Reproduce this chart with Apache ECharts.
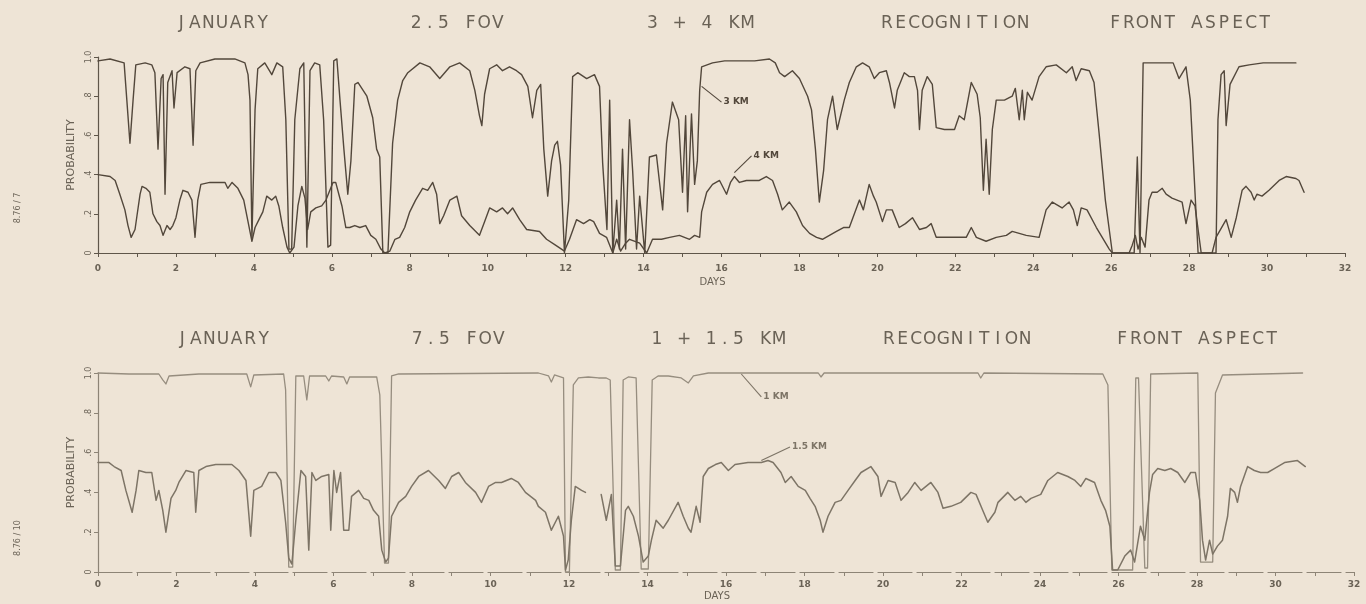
<!DOCTYPE html>
<html><head><meta charset="utf-8">
<script src="https://cdn.jsdelivr.net/npm/echarts@6/dist/echarts.min.js"></script>
<style>html,body{margin:0;padding:0;background:#eee4d6;}#c{width:1366px;height:604px;}</style>
</head><body><div id="c"></div>
<script>
// ---------- text ----------
const topTitles = ['JANUARY', '2.5 FOV', '3 + 4 KM', 'RECOGNITION', 'FRONT ASPECT'];
const bottomTitles = ['JANUARY', '7.5 FOV', '1 + 1.5 KM', 'RECOGNITION', 'FRONT ASPECT'];
const seriesNames = ['3 KM', '4 KM', '1 KM', '1.5 KM'];
const xName = 'DAYS';
const yName = 'PROBABILITY';
const sideNotes = ['8.76 / 7', '8.76 / 10'];

// ---------- data: [day, probability] ----------
const km3 = [[0,0.98],[0.31,0.99],[0.67,0.97],[0.74,0.78],[0.82,0.56],[0.90,0.78],[0.97,0.96],[1.21,0.97],[1.38,0.96],[1.46,0.92],[1.54,0.53],[1.62,0.89],[1.67,0.91],[1.72,0.30],[1.79,0.87],[1.90,0.93],[1.95,0.74],[2.03,0.92],[2.23,0.95],[2.36,0.94],[2.44,0.55],[2.51,0.93],[2.62,0.97],[3.00,0.99],[3.51,0.99],[3.77,0.97],[3.85,0.91],[3.90,0.78],[3.95,0.07],[4.03,0.73],[4.10,0.94],[4.28,0.97],[4.46,0.91],[4.59,0.97],[4.74,0.95],[4.82,0.68],[4.90,0.02],[4.97,0.02],[5.05,0.68],[5.18,0.94],[5.28,0.97],[5.36,0.03],[5.44,0.93],[5.56,0.97],[5.69,0.96],[5.79,0.68],[5.90,0.03],[5.97,0.04],[6.05,0.98],[6.13,0.99],[6.21,0.78],[6.31,0.53],[6.41,0.30],[6.49,0.47],[6.59,0.86],[6.67,0.87],[6.77,0.84],[6.90,0.80],[7.05,0.69],[7.15,0.53],[7.23,0.49],[7.31,0.00],[7.44,0.00],[7.56,0.56],[7.69,0.78],[7.82,0.88],[7.95,0.92],[8.26,0.97],[8.51,0.95],[8.77,0.89],[9.03,0.95],[9.28,0.97],[9.54,0.93],[9.67,0.83],[9.79,0.70],[9.85,0.65],[9.92,0.81],[10.05,0.94],[10.23,0.96],[10.38,0.93],[10.56,0.95],[10.74,0.93],[10.87,0.91],[11.03,0.85],[11.15,0.69],[11.26,0.83],[11.36,0.86],[11.44,0.53],[11.54,0.29],[11.64,0.47],[11.72,0.55],[11.79,0.57],[11.87,0.45],[11.97,0.00],[12.08,0.27],[12.18,0.90],[12.31,0.92],[12.54,0.89],[12.74,0.91],[12.87,0.85],[12.95,0.46],[13.06,0.12],[13.13,0.78],[13.21,0.00],[13.31,0.27],[13.38,0.02],[13.46,0.53],[13.54,0.02],[13.64,0.68],[13.72,0.42],[13.82,0.02],[13.90,0.29],[14.03,0.00],[14.15,0.49],[14.33,0.50],[14.49,0.22],[14.59,0.56],[14.74,0.77],[14.90,0.68],[15.00,0.31],[15.08,0.70],[15.13,0.21],[15.23,0.71],[15.31,0.35],[15.38,0.47],[15.44,0.83],[15.49,0.95],[15.77,0.97],[16.08,0.98],[16.46,0.98],[16.85,0.98],[17.23,0.99],[17.38,0.97],[17.49,0.92],[17.62,0.90],[17.82,0.93],[18.00,0.89],[18.21,0.80],[18.31,0.73],[18.41,0.53],[18.51,0.26],[18.62,0.42],[18.72,0.68],[18.85,0.80],[18.97,0.63],[19.15,0.78],[19.28,0.87],[19.46,0.95],[19.62,0.97],[19.79,0.95],[19.92,0.89],[20.05,0.92],[20.23,0.93],[20.31,0.87],[20.44,0.74],[20.51,0.83],[20.69,0.92],[20.82,0.90],[20.95,0.90],[21.03,0.83],[21.08,0.63],[21.15,0.83],[21.28,0.90],[21.41,0.86],[21.51,0.64],[21.72,0.63],[21.98,0.63],[22.10,0.70],[22.23,0.68],[22.41,0.87],[22.56,0.81],[22.64,0.69],[22.72,0.32],[22.79,0.58],[22.87,0.30],[22.95,0.63],[23.05,0.78],[23.26,0.78],[23.46,0.80],[23.54,0.84],[23.64,0.68],[23.72,0.83],[23.77,0.68],[23.85,0.82],[23.97,0.78],[24.15,0.90],[24.33,0.95],[24.59,0.96],[24.85,0.92],[25.00,0.95],[25.10,0.88],[25.23,0.94],[25.44,0.93],[25.56,0.87],[25.69,0.61],[25.85,0.27],[26.03,0.00],[26.59,0.00],[26.67,0.49],[26.74,0.00],[26.82,0.97],[26.90,0.97],[27.59,0.97],[27.74,0.89],[27.92,0.95],[28.03,0.78],[28.23,0.00],[28.69,0.00],[28.74,0.68],[28.82,0.91],[28.90,0.93],[28.95,0.65],[29.05,0.86],[29.28,0.95],[29.54,0.96],[29.90,0.97],[30.74,0.97]];

const km4 = [[0,0.40],[0.31,0.39],[0.44,0.37],[0.56,0.30],[0.69,0.22],[0.77,0.14],[0.85,0.08],[0.95,0.12],[1.00,0.19],[1.08,0.30],[1.13,0.34],[1.23,0.33],[1.33,0.31],[1.41,0.20],[1.51,0.16],[1.59,0.14],[1.67,0.09],[1.77,0.14],[1.85,0.12],[1.92,0.14],[2.00,0.18],[2.10,0.27],[2.18,0.32],[2.31,0.31],[2.41,0.27],[2.49,0.08],[2.56,0.27],[2.64,0.35],[2.87,0.36],[3.26,0.36],[3.33,0.33],[3.44,0.36],[3.59,0.33],[3.74,0.27],[3.87,0.14],[3.95,0.06],[4.03,0.13],[4.13,0.17],[4.23,0.21],[4.33,0.29],[4.46,0.27],[4.56,0.29],[4.64,0.24],[4.74,0.13],[4.85,0.03],[4.92,0.00],[5.03,0.03],[5.13,0.24],[5.23,0.34],[5.31,0.28],[5.38,0.12],[5.46,0.21],[5.59,0.23],[5.74,0.24],[5.85,0.27],[5.95,0.32],[6.03,0.36],[6.10,0.36],[6.18,0.30],[6.26,0.24],[6.36,0.13],[6.46,0.13],[6.59,0.14],[6.72,0.13],[6.87,0.14],[7.00,0.09],[7.13,0.07],[7.26,0.02],[7.36,0.00],[7.49,0.01],[7.62,0.07],[7.74,0.08],[7.87,0.13],[8.00,0.21],[8.15,0.27],[8.33,0.33],[8.46,0.32],[8.59,0.36],[8.69,0.30],[8.77,0.15],[8.87,0.19],[9.03,0.27],[9.21,0.29],[9.33,0.19],[9.54,0.14],[9.79,0.09],[9.92,0.16],[10.05,0.23],[10.23,0.21],[10.38,0.23],[10.51,0.20],[10.64,0.23],[10.82,0.17],[11.00,0.12],[11.33,0.11],[11.51,0.07],[11.74,0.04],[11.97,0.01],[12.10,0.07],[12.28,0.17],[12.46,0.15],[12.62,0.17],[12.72,0.16],[12.87,0.10],[13.05,0.08],[13.21,0.00],[13.31,0.07],[13.41,0.01],[13.54,0.05],[13.64,0.07],[13.90,0.05],[14.08,0.00],[14.23,0.07],[14.46,0.07],[14.67,0.08],[14.92,0.09],[15.18,0.07],[15.31,0.09],[15.44,0.08],[15.49,0.21],[15.62,0.31],[15.77,0.35],[15.95,0.37],[16.13,0.30],[16.23,0.36],[16.33,0.39],[16.46,0.36],[16.64,0.37],[16.97,0.37],[17.15,0.39],[17.31,0.37],[17.44,0.30],[17.56,0.22],[17.74,0.26],[17.92,0.21],[18.08,0.14],[18.26,0.10],[18.44,0.08],[18.59,0.07],[18.77,0.09],[18.95,0.11],[19.13,0.13],[19.28,0.13],[19.41,0.20],[19.54,0.27],[19.64,0.22],[19.79,0.35],[19.90,0.29],[19.97,0.26],[20.13,0.16],[20.23,0.22],[20.38,0.22],[20.56,0.13],[20.72,0.15],[20.90,0.18],[21.08,0.12],[21.26,0.13],[21.38,0.15],[21.51,0.08],[21.85,0.08],[22.28,0.08],[22.41,0.13],[22.54,0.08],[22.79,0.06],[23.05,0.08],[23.31,0.09],[23.46,0.11],[23.82,0.09],[24.15,0.08],[24.33,0.22],[24.49,0.26],[24.74,0.23],[24.92,0.26],[25.03,0.22],[25.13,0.14],[25.23,0.23],[25.38,0.22],[25.62,0.13],[25.77,0.08],[25.95,0.02],[26.03,0.00],[26.46,0.00],[26.54,0.04],[26.62,0.09],[26.69,0.02],[26.77,0.08],[26.87,0.03],[26.97,0.27],[27.05,0.31],[27.18,0.31],[27.31,0.33],[27.41,0.30],[27.56,0.28],[27.82,0.26],[27.92,0.15],[28.05,0.27],[28.15,0.24],[28.31,0.00],[28.59,0.00],[28.69,0.08],[28.95,0.17],[29.08,0.08],[29.21,0.18],[29.36,0.32],[29.46,0.34],[29.59,0.31],[29.67,0.27],[29.74,0.30],[29.87,0.29],[30.05,0.32],[30.31,0.37],[30.49,0.39],[30.74,0.38],[30.82,0.37],[30.95,0.31]];

const km1 = [[0,1.00],[0.79,0.995],[1.55,0.995],[1.65,0.965],[1.73,0.945],[1.81,0.985],[2.57,0.995],[3.79,0.995],[3.89,0.93],[3.97,0.99],[4.73,0.995],[4.78,0.915],[4.86,0.025],[4.96,0.025],[5.04,0.985],[5.24,0.985],[5.32,0.865],[5.39,0.985],[5.80,0.985],[5.88,0.96],[5.95,0.985],[6.26,0.98],[6.34,0.945],[6.41,0.98],[7.10,0.98],[7.18,0.89],[7.30,0.045],[7.40,0.045],[7.48,0.985],[7.66,0.995],[11.22,1.00],[11.48,0.985],[11.55,0.955],[11.63,0.99],[11.86,0.975],[11.91,0.00],[12.01,0.00],[12.11,0.94],[12.24,0.975],[12.49,0.98],[12.75,0.975],[12.95,0.975],[13.05,0.965],[13.18,0.01],[13.31,0.01],[13.38,0.965],[13.51,0.98],[13.71,0.975],[13.84,0.015],[14.02,0.015],[14.12,0.965],[14.27,0.985],[14.53,0.985],[14.86,0.975],[15.04,0.95],[15.17,0.985],[15.55,1.00],[18.35,1.00],[18.42,0.98],[18.50,1.00],[22.42,1.00],[22.49,0.975],[22.57,1.00],[25.60,0.995],[25.73,0.94],[25.83,0.01],[26.36,0.01],[26.44,0.975],[26.51,0.975],[26.67,0.02],[26.74,0.02],[26.82,0.995],[28.02,1.00],[28.09,0.05],[28.40,0.05],[28.47,0.90],[28.65,0.99],[30.69,1.00]];

const km15 = [[0,0.55],[0.28,0.55],[0.41,0.53],[0.59,0.51],[0.71,0.41],[0.87,0.30],[0.97,0.41],[1.04,0.51],[1.22,0.50],[1.37,0.50],[1.48,0.36],[1.55,0.41],[1.65,0.31],[1.73,0.20],[1.86,0.37],[1.98,0.41],[2.06,0.45],[2.24,0.51],[2.44,0.50],[2.49,0.30],[2.57,0.51],[2.75,0.53],[3.00,0.54],[3.41,0.54],[3.59,0.51],[3.77,0.46],[3.89,0.18],[3.97,0.41],[4.17,0.43],[4.35,0.50],[4.53,0.50],[4.66,0.46],[4.78,0.25],[4.86,0.07],[4.94,0.04],[5.04,0.26],[5.17,0.51],[5.29,0.48],[5.37,0.11],[5.45,0.50],[5.55,0.46],[5.70,0.48],[5.88,0.49],[5.93,0.21],[6.01,0.51],[6.08,0.40],[6.18,0.50],[6.26,0.21],[6.39,0.21],[6.46,0.38],[6.64,0.41],[6.77,0.37],[6.90,0.36],[7.02,0.31],[7.15,0.28],[7.23,0.11],[7.33,0.05],[7.40,0.07],[7.48,0.28],[7.66,0.35],[7.84,0.38],[7.99,0.43],[8.17,0.48],[8.42,0.51],[8.68,0.46],[8.85,0.42],[9.01,0.48],[9.19,0.50],[9.36,0.45],[9.62,0.40],[9.77,0.35],[9.95,0.43],[10.13,0.45],[10.28,0.45],[10.53,0.47],[10.71,0.45],[10.89,0.40],[11.15,0.36],[11.22,0.33],[11.40,0.30],[11.55,0.21],[11.73,0.28],[11.86,0.18],[11.91,0.01],[11.98,0.06],[12.06,0.26],[12.16,0.43],[12.32,0.41],[12.42,0.40],[12.60,null],[12.82,0.39],[12.95,0.26],[13.08,0.39],[13.18,0.03],[13.31,0.03],[13.44,0.31],[13.51,0.33],[13.64,0.28],[13.77,0.18],[13.89,0.05],[14.02,0.08],[14.10,0.16],[14.22,0.26],[14.40,0.22],[14.53,0.26],[14.78,0.35],[14.91,0.28],[15.04,0.22],[15.11,0.20],[15.24,0.33],[15.34,0.25],[15.42,0.48],[15.55,0.52],[15.73,0.54],[15.88,0.55],[16.06,0.51],[16.23,0.54],[16.56,0.55],[16.90,0.55],[17.07,0.56],[17.20,0.55],[17.28,0.53],[17.40,0.50],[17.51,0.45],[17.66,0.48],[17.84,0.43],[18.02,0.41],[18.14,0.37],[18.27,0.33],[18.40,0.26],[18.47,0.20],[18.60,0.28],[18.78,0.35],[18.93,0.36],[19.11,0.41],[19.29,0.46],[19.44,0.50],[19.69,0.53],[19.87,0.48],[19.95,0.38],[20.13,0.46],[20.31,0.45],[20.46,0.36],[20.64,0.40],[20.81,0.45],[20.97,0.41],[21.22,0.45],[21.40,0.40],[21.53,0.32],[21.73,0.33],[21.98,0.35],[22.24,0.40],[22.37,0.39],[22.54,0.31],[22.67,0.25],[22.85,0.30],[22.93,0.35],[23.18,0.40],[23.36,0.36],[23.51,0.38],[23.64,0.35],[23.77,0.37],[24.02,0.39],[24.20,0.46],[24.45,0.50],[24.71,0.48],[24.89,0.46],[25.04,0.43],[25.17,0.47],[25.39,0.45],[25.55,0.36],[25.67,0.31],[25.78,0.23],[25.85,0.01],[25.98,0.01],[26.16,0.08],[26.31,0.11],[26.41,0.05],[26.56,0.23],[26.67,0.16],[26.79,0.40],[26.87,0.49],[27.00,0.52],[27.18,0.51],[27.33,0.52],[27.51,0.50],[27.69,0.45],[27.84,0.50],[27.96,0.50],[28.07,0.36],[28.14,0.16],[28.22,0.06],[28.32,0.16],[28.40,0.09],[28.52,0.13],[28.65,0.16],[28.78,0.28],[28.85,0.42],[28.96,0.40],[29.03,0.35],[29.11,0.43],[29.29,0.53],[29.46,0.51],[29.62,0.50],[29.80,0.50],[29.97,0.52],[30.23,0.55],[30.56,0.56],[30.76,0.53]];

// ---------- styling ----------
const ink = '#52473b';
const axisInk = '#5f564a';
const axisInkLight = '#8d8476';
const txt = '#6a6256';
const fam = 'DejaVu Sans';

const toData = arr => arr.map(p => [p[0], p[1] === null ? '-' : p[1]]);
const fmtY = v => v === 0 ? '0' : (v >= 1 ? '1.0' : '.' + Math.round(v * 10));

function titleText(s, cx, cy) {
  return {
    type: 'text', x: cx, y: cy, silent: true,
    style: {
      text: s.split('').map(ch => '{c|' + ch + '}').join(''),
      align: 'center', verticalAlign: 'middle',
      rich: { c: { width: 13.6, align: 'center', fontSize: 17, fontFamily: fam, fill: txt } }
    }
  };
}

function xAxisCfg(grid, color, labelMargin, nameGap, dashed) {
  return {
    type: 'value', gridIndex: grid, min: 0, max: 32, interval: 2,
    axisLine: { show: true, onZero: false, lineStyle: { color: color, width: 1.2, type: dashed ? [34, 5] : 'solid' } },
    axisTick: { show: true, length: 4, lineStyle: { color: color } },
    minorTick: { show: true, splitNumber: 2, length: 4, lineStyle: { color: color } },
    splitLine: { show: false }, minorSplitLine: { show: false },
    axisLabel: { fontSize: 9, fontWeight: 'bold', color: txt, margin: labelMargin, fontFamily: fam },
    name: xName, nameLocation: 'middle', nameGap: nameGap,
    nameTextStyle: { fontSize: 10, color: txt, fontFamily: fam, padding: [0, 18, 0, 0] }
  };
}
function yAxisCfg(grid, color) {
  return {
    type: 'value', gridIndex: grid, min: 0, max: 1, interval: 0.2,
    axisLine: { show: true, lineStyle: { color: color, width: 1.2 } },
    axisTick: { show: true, length: 4, lineStyle: { color: color } },
    splitLine: { show: false },
    axisLabel: { rotate: 90, fontSize: 8, color: txt, margin: 5, fontFamily: fam, formatter: fmtY },
    name: yName, nameLocation: 'middle', nameGap: 20, nameRotate: 90,
    nameTextStyle: { fontSize: 11, color: txt, fontFamily: fam }
  };
}
function lineSeries(name, data, xi, color, width) {
  return {
    name: name, type: 'line', xAxisIndex: xi, yAxisIndex: xi, data: toData(data),
    showSymbol: false, symbol: 'none', clip: false, animation: false, connectNulls: false,
    lineStyle: { color: color, width: width, join: 'round', cap: 'round' }, z: 3
  };
}
function leader(label, from, to, xi, color) {
  return {
    type: 'line', xAxisIndex: xi, yAxisIndex: xi, data: [from, to], showSymbol: false, symbol: 'none',
    clip: false, animation: false, silent: true,
    lineStyle: { color: color, width: 1.1 }, z: 4,
    endLabel: { show: true, formatter: label, fontSize: 9, fontWeight: 'bold', color: color, fontFamily: fam, distance: 2 }
  };
}

const chart = echarts.init(document.getElementById('c'), null, { renderer: 'canvas' });
const titleXTop = [222, 457, 700, 955, 1190];
const titleXBot = [223, 458, 718, 957, 1197];

chart.setOption({
  backgroundColor: '#eee4d6',
  animation: false,
  grid: [
    { left: 98, right: 21, top: 57, bottom: 351, outerBoundsMode: 'none' },
    { left: 98, right: 12, top: 373, bottom: 32, outerBoundsMode: 'none' }
  ],
  xAxis: [xAxisCfg(0, axisInk, 11, 24, false), xAxisCfg(1, axisInkLight, 8, 19, true)],
  yAxis: [yAxisCfg(0, axisInk), yAxisCfg(1, axisInkLight)],
  graphic: [
    ...topTitles.map((t, i) => titleText(t, titleXTop[i], 24)),
    ...bottomTitles.map((t, i) => titleText(t, titleXBot[i], 340)),
    { type: 'text', x: 18, y: 208, rotation: Math.PI / 2, silent: true,
      style: { text: sideNotes[0], fontSize: 8, fontFamily: fam, fill: '#6c6458', align: 'center', verticalAlign: 'middle' } },
    { type: 'text', x: 18, y: 538, rotation: Math.PI / 2, silent: true,
      style: { text: sideNotes[1], fontSize: 8, fontFamily: fam, fill: '#6c6458', align: 'center', verticalAlign: 'middle' } }
  ],
  series: [
    lineSeries(seriesNames[0], km3, 0, ink, 1.4),
    lineSeries(seriesNames[1], km4, 0, ink, 1.4),
    lineSeries(seriesNames[2], km1, 1, '#968d7f', 1.3),
    lineSeries(seriesNames[3], km15, 1, '#7d7466', 1.5),
    leader(seriesNames[0], [15.49, 0.85], [16.0, 0.77], 0, ink),
    leader(seriesNames[1], [16.33, 0.41], [16.77, 0.495], 0, ink),
    leader(seriesNames[2], [16.39, 0.995], [16.9, 0.88], 1, '#7d7466'),
    leader(seriesNames[3], [16.9, 0.56], [17.63, 0.628], 1, '#7d7466')
  ]
});
</script>
</body></html>
